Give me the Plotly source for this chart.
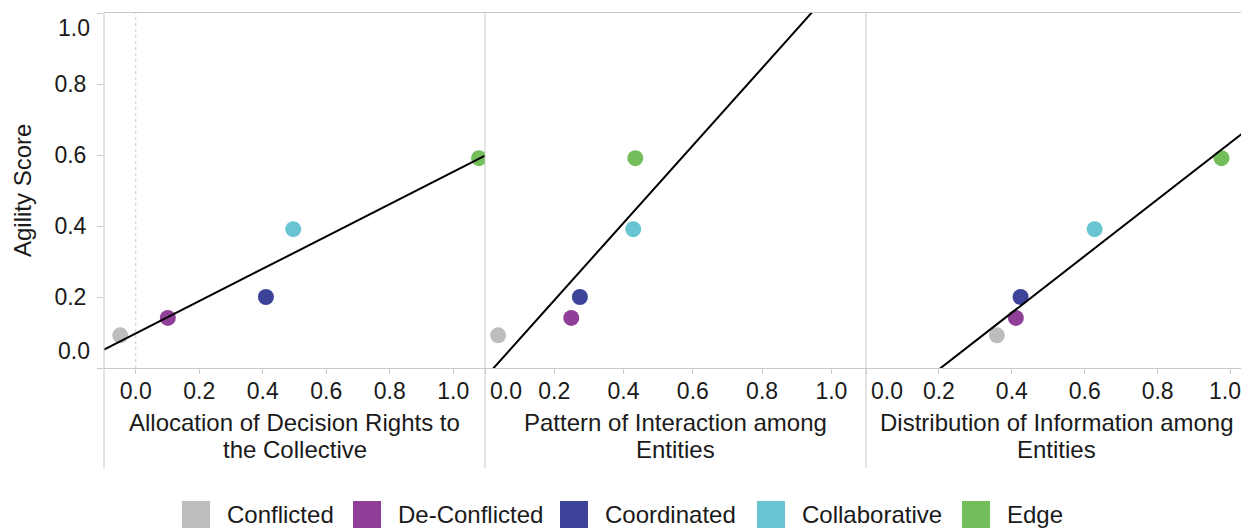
import numpy as np
import plotly.graph_objects as go

# ---------------- data ----------------
categories = ["Conflicted", "De-Conflicted", "Coordinated", "Collaborative", "Edge"]
colors = ["#BDBDBD", "#903F98", "#3C4399", "#68C4D1", "#74BD5B"]
agility_score = [0.092, 0.141, 0.200, 0.391, 0.591]
decision_rights = [-0.049, 0.101, 0.410, 0.496, 1.081]
interaction = [0.038, 0.249, 0.274, 0.428, 0.434]
information = [0.359, 0.411, 0.424, 0.627, 0.975]
panel_titles = [
    ["Allocation of Decision Rights to", "the Collective"],
    ["Pattern of Interaction among", "Entities"],
    ["Distribution of Information among", "Entities"],
]
x_tick_vals = [0.0, 0.2, 0.4, 0.6, 0.8, 1.0]
x_tick_text = ["0.0", "0.2", "0.4", "0.6", "0.8", "1.0"]
y_tick_vals = [0.0, 0.2, 0.4, 0.6, 0.8, 1.0]
y_tick_text = ["0.0", "0.2", "0.4", "0.6", "0.8", "1.0"]
y_title = "Agility Score"

# ---------------- layout constants ----------------
OFF = 8  # default page margin of the browser body
W, H = 1249 - OFF, 528 - OFF
# plot area in page pixels: left 104, right 1247, top 13, bottom 368
ML, MR, MT = 104 - OFF, 2, 13 - OFF
MB = H - (368 - OFF)
PW, PH = W - ML - MR, H - MT - MB
x_ranges = [[-0.1, 1.1], [0.0, 1.1], [0.0, 1.045]]
GRAY = "#c8c8c8"
FONT = "Liberation Sans, Arial, sans-serif"
TXT = "#1a1a1a"
FS_TICK = 23
FS = 24


def px_x(p):  # page pixel -> paper
    return (p - OFF - ML) / PW


def px_y(p):
    return (H - MB - (p - OFF)) / PH


series_x = [decision_rights, interaction, information]

fig = go.Figure()
for i, xs in enumerate(series_x):
    ax = "x" if i == 0 else f"x{i+1}"
    fig.add_trace(go.Scatter(
        x=xs, y=agility_score, mode="markers", xaxis=ax, yaxis="y",
        marker=dict(size=16, color=colors, line=dict(width=0)),
        showlegend=False, hoverinfo="x+y",
    ))
    slope, intercept = np.polyfit(xs, agility_score, 1)
    lx = np.array(x_ranges[i])
    fig.add_trace(go.Scatter(
        x=lx, y=slope * lx + intercept, mode="lines", xaxis=ax, yaxis="y",
        line=dict(color="black", width=2), showlegend=False, hoverinfo="skip",
    ))

layout = dict(
    width=W, height=H,
    margin=dict(l=ML, r=MR, t=MT, b=MB, autoexpand=False),
    paper_bgcolor="white", plot_bgcolor="white",
    font=dict(family=FONT, size=FS_TICK, color=TXT),
    showlegend=False,
    yaxis=dict(
        range=[0, 1], anchor="x", tickvals=y_tick_vals,
        ticktext=[("" if v in (0.0, 1.0) else t) for v, t in zip(y_tick_vals, y_tick_text)],
        ticks="outside", ticklen=6, tickcolor=GRAY, tickwidth=1,
        showgrid=False, zeroline=False, showline=False,
        ticklabelstandoff=6, automargin=False,
        tickfont=dict(size=FS_TICK),
    ),
)
for i in range(3):
    key = "xaxis" if i == 0 else f"xaxis{i+1}"
    ticktext = list(x_tick_text)
    if i > 0:
        ticktext[0] = ""
    if i == 2:
        ticktext[-1] = ""
    layout[key] = dict(
        domain=[i / 3, (i + 1) / 3], range=x_ranges[i], anchor="y",
        tickvals=x_tick_vals, ticktext=ticktext,
        ticks="outside", ticklen=5, tickcolor=GRAY, tickwidth=1,
        showline=True, linecolor=GRAY, linewidth=1, mirror=True,
        showgrid=False, zeroline=False, automargin=False,
        ticklabelstandoff=-3,
        tickfont=dict(size=FS_TICK),
    )
fig.update_layout(**layout)

shapes = []
# panel separators extending into the title area
for d in [0, 1 / 3, 2 / 3, 1]:
    shapes.append(dict(type="line", xref="paper", yref="paper", x0=d, x1=d,
                       y0=px_y(468), y1=1, line=dict(color=GRAY, width=1)))
# dotted zero line in first panel
shapes.append(dict(type="line", xref="x", yref="y", x0=0, x1=0, y0=0, y1=1,
                   line=dict(color=GRAY, width=1, dash="dot")))

annotations = []
# y axis title
annotations.append(dict(xref="paper", yref="paper", x=px_x(22.5), y=0.5, text=y_title,
                        textangle=-90, xanchor="center", yanchor="middle", showarrow=False,
                        font=dict(size=FS, color=TXT)))
# edge y tick labels (kept inside the pane)
annotations.append(dict(xref="paper", yref="y", x=0, y=y_tick_vals[-1], text=y_tick_text[-1],
                        xanchor="right", yanchor="top", xshift=-12, showarrow=False,
                        font=dict(size=FS_TICK, color=TXT)))
annotations.append(dict(xref="paper", yref="y", x=0, y=y_tick_vals[0], text=y_tick_text[0],
                        xanchor="right", yanchor="bottom", xshift=-12, yshift=2, showarrow=False,
                        font=dict(size=FS_TICK, color=TXT)))
# edge x tick labels for panels 2 & 3
for i in (1, 2):
    annotations.append(dict(xref=f"x{i+1}", yref="paper", x=x_tick_vals[0], y=px_y(391),
                            text=x_tick_text[0], xanchor="left", yanchor="middle", xshift=3,
                            showarrow=False, font=dict(size=FS_TICK, color=TXT)))
annotations.append(dict(xref="paper", yref="paper", x=1, y=px_y(391),
                        text=x_tick_text[-1], xanchor="right", yanchor="middle", xshift=-4,
                        showarrow=False, font=dict(size=FS_TICK, color=TXT)))
# panel (x axis) titles, two lines each
for i, lines in enumerate(panel_titles):
    for k, line in enumerate(lines):
        annotations.append(dict(xref="paper", yref="paper", x=(i + 0.5) / 3,
                                y=px_y(422.5 + 26.6 * k), text=line,
                                xanchor="center", yanchor="middle", showarrow=False,
                                font=dict(size=FS, color=TXT)))

# legend (drawn manually so the swatches match the large squares)
legend_sq_px = [182, 353, 560, 757, 962]
SQ = 28
for cat, col, xp in zip(categories, colors, legend_sq_px):
    shapes.append(dict(type="rect", xref="paper", yref="paper",
                       x0=px_x(xp), x1=px_x(xp + SQ), y0=px_y(528), y1=px_y(501),
                       fillcolor=col, line=dict(width=0)))
    annotations.append(dict(xref="paper", yref="paper", x=px_x(xp + SQ + 15), y=px_y(515),
                            text=cat, xanchor="left", yanchor="middle", showarrow=False,
                            font=dict(size=FS, color=TXT)))

fig.update_layout(shapes=shapes, annotations=annotations)
fig.write_html("out.html")
